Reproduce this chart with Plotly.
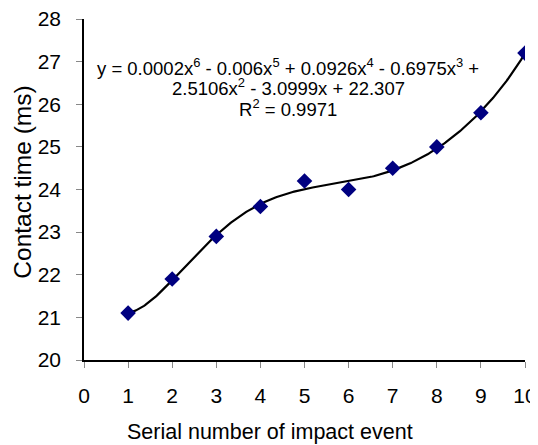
import numpy as np
import plotly.graph_objects as go

event = [1, 2, 3, 4, 5, 6, 7, 8, 9, 10]
contact_time = [21.1, 21.9, 22.9, 23.6, 24.2, 24.0, 24.5, 25.0, 25.8, 27.2]
x_ticks = [0, 1, 2, 3, 4, 5, 6, 7, 8, 9, 10]
y_ticks = [20, 21, 22, 23, 24, 25, 26, 27, 28]
eq_lines = [
    "y = 0.0002x<sup>6</sup> - 0.006x<sup>5</sup> + 0.0926x<sup>4</sup> - 0.6975x<sup>3</sup> +",
    "2.5106x<sup>2</sup> - 3.0999x + 22.307",
    "R<sup>2</sup> = 0.9971",
]
eq_y = [26.88, 26.41, 25.92]
x_title = "Serial number of impact event"
y_title = "Contact time (ms)"

# 6th-order polynomial trendline fitted to the data
coef = np.polyfit(event, contact_time, 6)
xf = np.linspace(min(event), max(event), 300)
yf = np.polyval(coef, xf)

font = "Arial"
fig = go.Figure()
fig.add_trace(go.Scatter(x=xf, y=yf, mode="lines",
                         line=dict(color="black", width=2.2), showlegend=False,
                         hoverinfo="skip"))
fig.add_trace(go.Scatter(x=event, y=contact_time, mode="markers",
                         marker=dict(symbol="diamond", size=12, color="#000080",
                                     line=dict(width=0)),
                         showlegend=False))

for txt, yy in zip(eq_lines, eq_y):
    fig.add_annotation(x=0.4626, y=yy, xref="paper", yref="y", text=txt,
                       showarrow=False, xanchor="center", yanchor="middle",
                       font=dict(family=font, size=18.5, color="black"))

# axis titles (placed as in the reference, not centred on the plot area)
fig.add_annotation(x=0.4218, y=0, xref="paper", yref="paper", text=x_title,
                   showarrow=False, xanchor="center", yanchor="middle", yshift=-72,
                   font=dict(family=font, size=21.5, color="black"))
fig.add_annotation(x=0, y=24.16, xref="paper", yref="y", text=y_title,
                   textangle=-90, showarrow=False, xanchor="center", yanchor="middle",
                   xshift=-61, font=dict(family=font, size=24.5, color="black"))

fig.update_layout(
    width=538, height=445,
    margin=dict(l=76, r=21, t=11, b=93),
    paper_bgcolor="white", plot_bgcolor="white",
    font=dict(family=font, size=18, color="black"),
)
fig.update_xaxes(range=[0, 10], tickvals=x_ticks, showgrid=False, zeroline=False,
                 showline=True, linecolor="black", linewidth=1.5, automargin=False,
                 ticks="outside", ticklen=6, tickcolor="#888", tickwidth=1,
                 ticklabelstandoff=10, ticklabeloverflow="allow",
                 tickfont=dict(family=font, size=21))
fig.update_yaxes(range=[20, 28], tickvals=y_ticks, showgrid=False, zeroline=False,
                 showline=True, linecolor="black", linewidth=1.5, automargin=False,
                 ticks="outside", ticklen=6, tickcolor="#888", tickwidth=1,
                 ticklabelstandoff=11, ticklabeloverflow="allow",
                 tickfont=dict(family=font, size=21))
fig.write_html("out.html")
